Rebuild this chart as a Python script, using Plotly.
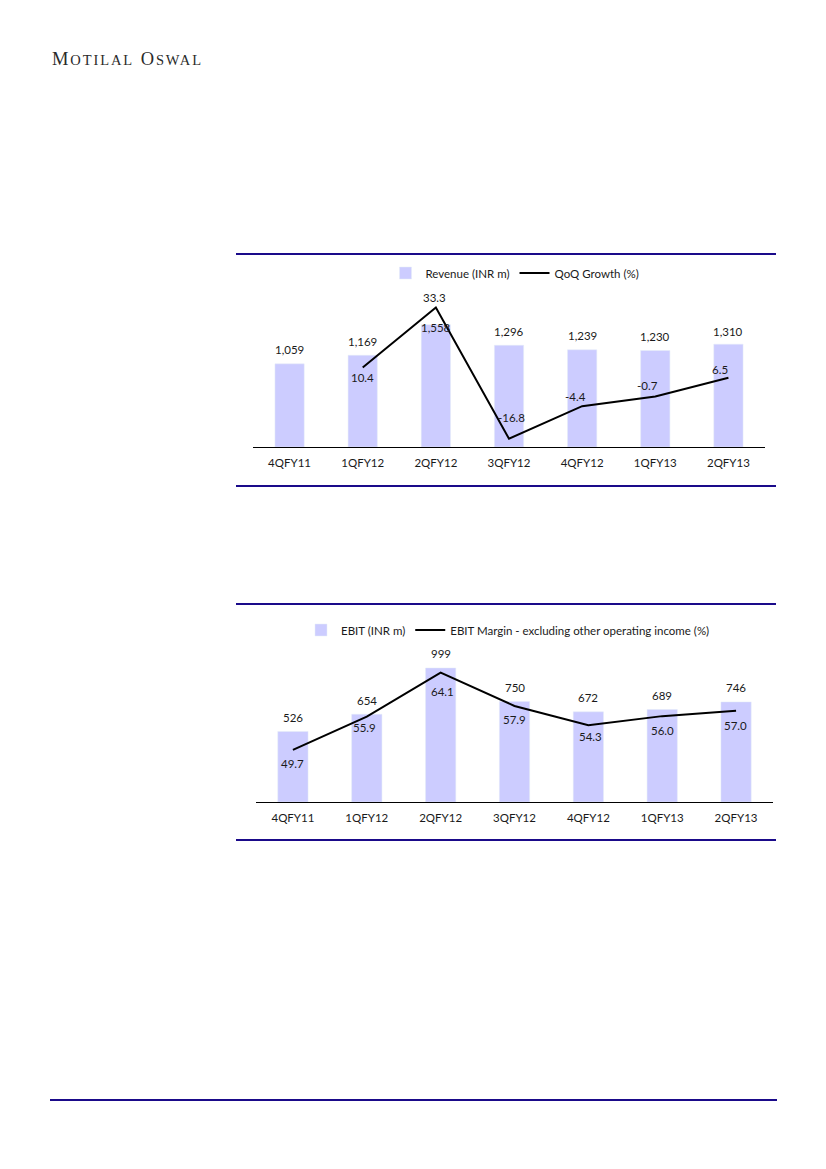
import plotly.graph_objects as go

# ---------------- data ----------------
quarters = ["4QFY11", "1QFY12", "2QFY12", "3QFY12", "4QFY12", "1QFY13", "2QFY13"]
revenue = [1059, 1169, 1558, 1296, 1239, 1230, 1310]
qoq_growth = [None, 10.4, 33.3, -16.8, -4.4, -0.7, 6.5]
ebit = [526, 654, 999, 750, 672, 689, 746]
ebit_margin = [49.7, 55.9, 64.1, 57.9, 54.3, 56.0, 57.0]

# ---------------- style ----------------
W, H = 826, 1169
BAR = "#ccccff"
NAVY = "#1a0a8a"
TXT = "#1a1a1a"
FONT = "Lato"
FS = 11.5

def px(x):
    return x / W

def py(y):
    return 1 - y / H

# label offsets (pixels) for data labels
rev_label_shift = [14, 14, -3, 14, 14, 14, 13]
qoq_label_shift = [(0, 0), (0, -10), (-1, 10), (2, 21), (-7, 10), (-8, 11), (-8, 8)]
ebit_label_shift = [14, 14, 14, 14, 14, 14, 14]
margin_label_shift = [(0, -14), (-2, -11), (2, -19), (0, -14), (2, -11), (0, -14), (-1, -15)]

fig = go.Figure()

fig.add_trace(go.Bar(x=quarters, y=revenue, name="Revenue (INR m)", marker_color=BAR,
                     width=0.40, xaxis="x", yaxis="y", legend="legend"))
fig.add_trace(go.Scatter(x=quarters, y=qoq_growth, name="QoQ Growth (%)", mode="lines",
                         line=dict(color="black", width=2), xaxis="x", yaxis="y2",
                         legend="legend", connectgaps=False))
fig.add_trace(go.Bar(x=quarters, y=ebit, name="EBIT (INR m)", marker_color=BAR,
                     width=0.41, xaxis="x2", yaxis="y3", legend="legend2"))
fig.add_trace(go.Scatter(x=quarters, y=ebit_margin,
                         name="EBIT Margin - excluding other operating income (%)",
                         mode="lines", line=dict(color="black", width=2),
                         xaxis="x2", yaxis="y4", legend="legend2"))

annotations = []
lab_font = dict(family=FONT, size=FS, color=TXT)
for q, v, s in zip(quarters, revenue, rev_label_shift):
    annotations.append(dict(x=q, y=v, xref="x", yref="y", text=f"{v:,}", showarrow=False,
                            yshift=s, font=lab_font))
for q, v, (sx, sy) in zip(quarters, qoq_growth, qoq_label_shift):
    if v is None:
        continue
    annotations.append(dict(x=q, y=v, xref="x", yref="y2", text=f"{v:.1f}", showarrow=False,
                            xshift=sx, yshift=sy, font=lab_font))
for q, v, s in zip(quarters, ebit, ebit_label_shift):
    annotations.append(dict(x=q, y=v, xref="x2", yref="y3", text=f"{v:,}", showarrow=False,
                            yshift=s, font=lab_font))
for q, v, (sx, sy) in zip(quarters, ebit_margin, margin_label_shift):
    annotations.append(dict(x=q, y=v, xref="x2", yref="y4", text=f"{v:.1f}", showarrow=False,
                            xshift=sx, yshift=sy, font=lab_font))

# header (small caps)
big = "font-size:18.5px;letter-spacing:1.9px"
small = "font-size:14.5px;letter-spacing:1.9px"
header = (f"<span style='{big}'>M</span><span style='{small}'>OTILAL</span>"
          f"<span style='{big}'> O</span><span style='{small}'>SWAL</span>")
annotations.append(dict(x=px(50), y=py(59), xref="paper", yref="paper", xanchor="left",
                        yanchor="middle", showarrow=False, text=header,
                        font=dict(family="Liberation Serif", size=18.5, color="#2a2a2a")))

shapes = []
for y0, x0, x1 in [(254, 236, 776), (486, 236, 776), (604, 236, 776), (840, 236, 776), (1100, 50, 777)]:
    shapes.append(dict(type="line", xref="paper", yref="paper", x0=px(x0), x1=px(x1),
                       y0=py(y0), y1=py(y0), line=dict(color=NAVY, width=1.8)))

xcommon = dict(showline=True, linecolor="black", linewidth=1, showgrid=False, zeroline=False,
               ticks="", tickfont=dict(family=FONT, size=FS, color=TXT), fixedrange=True,
               range=[-0.5, 6.5], ticklabelstandoff=5)
yhidden = dict(visible=False, showgrid=False, zeroline=False, fixedrange=True)

fig.update_layout(
    width=W, height=H, margin=dict(l=0, r=0, t=0, b=0),
    paper_bgcolor="white", plot_bgcolor="white",
    font=dict(family=FONT, size=FS, color=TXT),
    xaxis=dict(domain=[px(253), px(765)], anchor="y", **xcommon),
    yaxis=dict(domain=[py(447), py(290)], range=[0, 2000], **yhidden),
    yaxis2=dict(overlaying="y", range=[-20, 40], **yhidden),
    xaxis2=dict(domain=[px(256), px(773)], anchor="y3", **xcommon),
    yaxis3=dict(domain=[py(802), py(641)], range=[0, 1200], **yhidden),
    yaxis4=dict(overlaying="y3", range=[40, 70], **yhidden),
    legend=dict(orientation="h", x=px(515), y=py(273), xanchor="center", yanchor="middle",
                font=dict(family=FONT, size=FS, color=TXT), bgcolor="rgba(0,0,0,0)",
                itemwidth=30, traceorder="normal"),
    legend2=dict(orientation="h", x=px(508), y=py(630), xanchor="center", yanchor="middle",
                 font=dict(family=FONT, size=FS, color=TXT), bgcolor="rgba(0,0,0,0)",
                 itemwidth=30, traceorder="normal"),
    annotations=annotations, shapes=shapes, bargap=0.6,
)

fig.write_html("out.html", config={"displayModeBar": False},
               post_script="document.body.style.margin='0';document.body.style.overflow='hidden';")
